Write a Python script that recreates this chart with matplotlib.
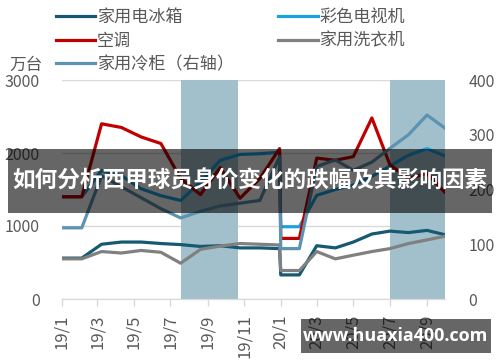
import matplotlib
matplotlib.use("Agg")
import matplotlib.pyplot as plt
from matplotlib.patches import Rectangle
import pandas as pd

plt.rcParams['font.family'] = ['Noto Sans CJK SC', 'DejaVu Sans']

# ---------------- data ----------------
dates = ['2019-01-01', '2019-02-03', '2019-03-08', '2019-04-10', '2019-05-13', '2019-06-15',
         '2019-07-18', '2019-08-20', '2019-09-22', '2019-10-25', '2019-11-27', '2019-12-30',
         '2020-01-01', '2020-02-01', '2020-03-01', '2020-04-01', '2020-05-01', '2020-06-01',
         '2020-07-01', '2020-08-01', '2020-09-01', '2020-10-01']

fridge = [560, 560, 750, 780, 780, 760, 745, 720, 730, 700, 700, 690,
          330, 330, 730, 700, 780, 890, 930, 910, 940, 880]
tv = [1400, 1400, 1760, 1690, 1510, 1415, 1350, 1600, 1900, 1980, 1990, 2010,
      990, 990, 1420, 1500, 1560, 1680, 1820, 1970, 2060, 1960]
ac = [1400, 1400, 2400, 2350, 2220, 2130, 1650, 1430, 1800, 1380, 1650, 2060,
      830, 830, 1930, 1900, 1950, 2480, 1840, 1650, 1720, 1460]
washer = [550, 550, 650, 630, 665, 640, 490, 680, 725, 760, 750, 740,
          390, 390, 650, 550, 600, 650, 690, 760, 810, 860]
freezer = [130, 130, 225, 205, 185, 165, 148, 160, 170, 175, 180, 260,
           92, 92, 242, 254, 235, 250, 275, 300, 336, 312]

series_names = ['家用电冰箱', '彩色电视机', '空调', '家用洗衣机', '家用冷柜（右轴）']
shade_periods = [('2019-07-18', '2019-10-22'), ('2020-07-01', '2020-10-01')]
tick_dates = ['2019-01-01', '2019-03-01', '2019-05-01', '2019-07-01', '2019-09-01', '2019-11-01',
              '2020-01-01', '2020-03-01', '2020-05-01', '2020-07-01', '2020-09-01']
tick_labels = ['19/1', '19/3', '19/5', '19/7', '19/9', '19/11',
               '20/1', '20/3', '20/5', '20/7', '20/9']
left_ticks = [0, 1000, 2000, 3000]
right_ticks = [0, 100, 200, 300, 400]

title = '如何分析西甲球员身价变化的跌幅及其影响因素'
watermark = 'www.huaxia400.com'
unit = '万台'

# ---------------- styling ----------------
c_fridge = '#155a72'
c_tv = '#1ba3e0'
c_ac = '#c00000'
c_washer = '#808080'
c_freezer = '#5b93b0'
c_shade = '#a2c0cb'
c_text = '#595959'
c_grid = '#d9d9d9'
lw = 2.3

x = pd.to_datetime(dates)

fig = plt.figure(figsize=(5, 3.62), dpi=100)
ax = fig.add_axes([62 / 500, 1 - 299 / 362, (445 - 62) / 500, (299 - 80) / 362])
ax2 = ax.twinx()

for s, e in shade_periods:
    ax.axvspan(pd.Timestamp(s), pd.Timestamp(e), color=c_shade, lw=0, zorder=1)

l1, = ax.plot(x, fridge, color=c_fridge, lw=lw, zorder=3, label=series_names[0])
l2, = ax.plot(x, tv, color=c_tv, lw=lw, zorder=3, label=series_names[1])
l3, = ax.plot(x, ac, color=c_ac, lw=lw, zorder=3, label=series_names[2])
l4, = ax.plot(x, washer, color=c_washer, lw=lw, zorder=3, label=series_names[3])
l5, = ax2.plot(x, freezer, color=c_freezer, lw=lw, zorder=3, label=series_names[4])

ax.set_xlim(pd.Timestamp('2019-01-01'), pd.Timestamp('2020-10-01'))
ax.set_ylim(0, 3000)
ax2.set_ylim(0, 400)
ax.set_yticks(left_ticks)
ax2.set_yticks(right_ticks)
ax.yaxis.grid(True, color=c_grid, lw=1)
ax.set_axisbelow(True)

ax.set_xticks(pd.to_datetime(tick_dates))
ax.set_xticklabels(tick_labels, rotation=90)
ax.tick_params(axis='x', length=5, width=1, color=c_grid, labelsize=12, labelcolor=c_text, pad=6)
ax.tick_params(axis='y', length=0, labelsize=11.5, labelcolor=c_text, pad=16)
ax2.tick_params(axis='y', length=0, labelsize=11.5, labelcolor=c_text, pad=17)

for a in (ax, ax2):
    for sp in ('top', 'left', 'right'):
        a.spines[sp].set_visible(False)
    a.spines['bottom'].set_color(c_grid)
    a.patch.set_visible(False)

fig.text(26 / 500, 1 - 65 / 362, unit, ha='center', va='center', fontsize=12, color=c_text)

leg = fig.legend([l1, l3, l5, l2, l4],
                 [series_names[0], series_names[2], series_names[4], series_names[1], series_names[3]],
                 ncol=2, loc='upper left', bbox_to_anchor=(56 / 500, 1 - 8 / 362),
                 frameon=False, fontsize=12.3, handlelength=2.3, handletextpad=0.1,
                 columnspacing=2.6, labelspacing=0.33, borderaxespad=0, borderpad=0)
for t in leg.get_texts():
    t.set_color(c_text)

# overlay banner
fig.add_artist(Rectangle((8 / 500, 1 - 213 / 362), 484 / 500, 64 / 362,
                         transform=fig.transFigure, color='black', alpha=0.6, lw=0, zorder=10))
fig.text(250 / 500, 1 - 181 / 362, title, ha='center', va='center', fontsize=16.3,
         fontweight='bold', color='white', zorder=11)

fig.add_artist(Rectangle((301 / 500, 1 - 353 / 362), 190 / 500, 34 / 362,
                         transform=fig.transFigure, color='black', alpha=0.6, lw=0, zorder=10))
fig.text(396 / 500, 1 - 336 / 362, watermark, ha='center', va='center', fontsize=13,
         fontweight='bold', color='white', family=['Open Sans', 'DejaVu Sans'], zorder=11)

fig.savefig('out.png', dpi=100)
